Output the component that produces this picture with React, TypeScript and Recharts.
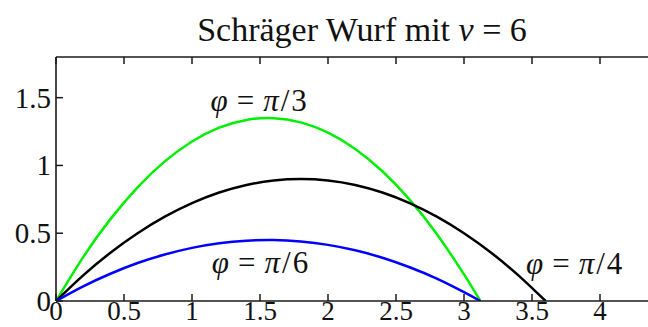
import React from "react";
import { LineChart, Line, XAxis, YAxis, ReferenceDot } from "recharts";

// trajectories (x in m, height in m)
const xShort = [0, 0.2, 0.4, 0.6, 0.8, 1, 1.2, 1.4, 1.6, 1.8, 2, 2.2, 2.4, 2.6, 2.8, 3, 3.12];
const yPi6 = [0, 0.108, 0.201, 0.28, 0.343, 0.392, 0.426, 0.445, 0.45, 0.439, 0.414, 0.374, 0.319, 0.249, 0.165, 0.065, 0];
const yPi3 = [0, 0.324, 0.604, 0.839, 1.03, 1.177, 1.279, 1.336, 1.349, 1.318, 1.242, 1.122, 0.957, 0.748, 0.494, 0.196, 0];

const xLong = [0, 0.2, 0.4, 0.6, 0.8, 1, 1.2, 1.4, 1.6, 1.8, 2, 2.2, 2.4, 2.6, 2.8, 3, 3.2, 3.4, 3.6];
const yPi4 = [0, 0.189, 0.356, 0.5, 0.622, 0.722, 0.8, 0.856, 0.889, 0.9, 0.889, 0.856, 0.8, 0.722, 0.622, 0.5, 0.356, 0.189, 0];

const xTicks = [0, 0.5, 1, 1.5, 2, 2.5, 3, 3.5, 4];
const yTicks = [0, 0.5, 1, 1.5];

const toPoints = (xs: number[], ys: number[]) => xs.map((x, i) => ({ x, y: ys[i] }));
const pi6 = toPoints(xShort, yPi6);
const pi3 = toPoints(xShort, yPi3);
const pi4 = toPoints(xLong, yPi4);

const FONT = "'Liberation Serif', 'Times New Roman', serif";
const AXIS = "#1a1a1a";

const BottomTick = ({ x, y, payload }: any) => (
  <g>
    <line x1={x} x2={x} y1={y} y2={y - 7} stroke={AXIS} strokeWidth={1.5} />
    <text x={x} y={y + 19} textAnchor="middle" fontFamily={FONT} fontSize={27} fill="#111">
      {String(payload.value)}
    </text>
  </g>
);

const TopTick = ({ x, y }: any) => (
  <line x1={x} x2={x} y1={y} y2={y + 7} stroke={AXIS} strokeWidth={1.5} />
);

const LeftTick = ({ x, y, payload }: any) => (
  <g>
    <line x1={x} x2={x + 7} y1={y} y2={y} stroke={AXIS} strokeWidth={1.5} />
    <text x={x - 5} y={y} textAnchor="end" dominantBaseline="central" fontFamily={FONT} fontSize={29} fill="#111">
      {String(payload.value)}
    </text>
  </g>
);

const PhiLabel = ({ viewBox, frac }: any) => {
  const cx = viewBox.x + viewBox.width / 2;
  const cy = viewBox.y + viewBox.height / 2;
  return (
    <text
      x={cx}
      y={cy}
      textAnchor="middle"
      dominantBaseline="central"
      fontFamily={FONT}
      fontSize={31}
      fill="#111"
      style={{ whiteSpace: "pre" }}
    >
      <tspan fontStyle="italic">φ</tspan>
      <tspan dx={9}>=</tspan>
      <tspan dx={9} fontStyle="italic">π</tspan>
      <tspan dx={2}>/</tspan>
      <tspan dx={2}>{frac}</tspan>
    </text>
  );
};

export default function App() {
  return (
    <div
      style={{
        position: "absolute",
        left: 0,
        top: 0,
        width: 648,
        height: 327,
        overflow: "hidden",
        background: "#fff",
      }}
    >
      <div
        style={{
          position: "absolute",
          left: 56,
          top: 13,
          width: 612,
          textAlign: "center",
          fontFamily: FONT,
          fontSize: 34,
          lineHeight: 1,
          color: "#111",
          whiteSpace: "pre",
        }}
      >
        Schräger Wurf mit <i>v</i> = 6
      </div>
      <LineChart width={700} height={327} margin={{ top: 56, right: 32, bottom: 0, left: 0 }}>
        <XAxis
          dataKey="x"
          type="number"
          domain={[0, 4.5]}
          ticks={xTicks}
          height={26}
          tickSize={0}
          tickMargin={0}
          tickLine={false}
          axisLine={{ stroke: AXIS, strokeWidth: 1.6 }}
          tick={<BottomTick />}
          interval={0}
          allowDataOverflow
        />
        <XAxis
          xAxisId="top"
          dataKey="x"
          type="number"
          orientation="top"
          domain={[0, 4.5]}
          ticks={xTicks}
          height={1}
          tickSize={0}
          tickMargin={0}
          tickLine={false}
          axisLine={{ stroke: AXIS, strokeWidth: 1.6 }}
          tick={<TopTick />}
          interval={0}
          allowDataOverflow
        />
        <YAxis
          type="number"
          domain={[0, 1.8]}
          ticks={yTicks}
          width={56}
          tickSize={0}
          tickMargin={0}
          tickLine={false}
          axisLine={{ stroke: AXIS, strokeWidth: 1.6 }}
          tick={<LeftTick />}
          interval={0}
          allowDataOverflow
        />
        <Line data={pi3} dataKey="y" type="natural" stroke="#00ee00" strokeWidth={2.5} dot={false} isAnimationActive={false} />
        <Line data={pi4} dataKey="y" type="natural" stroke="#000000" strokeWidth={2.5} dot={false} isAnimationActive={false} />
        <Line data={pi6} dataKey="y" type="natural" stroke="#0000ff" strokeWidth={2.5} dot={false} isAnimationActive={false} />
        <ReferenceDot x={1.49} y={1.486} r={1} fill="none" stroke="none" label={<PhiLabel frac="3" />} />
        <ReferenceDot x={1.5} y={0.29} r={1} fill="none" stroke="none" label={<PhiLabel frac="6" />} />
        <ReferenceDot x={3.81} y={0.277} r={1} fill="none" stroke="none" label={<PhiLabel frac="4" />} />
      </LineChart>
    </div>
  );
}
